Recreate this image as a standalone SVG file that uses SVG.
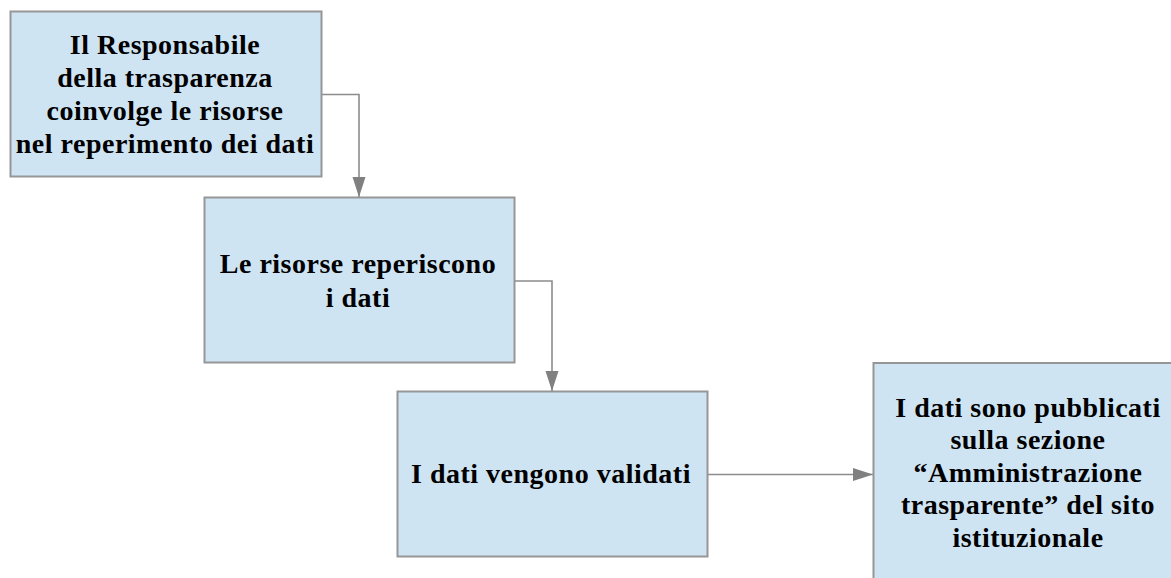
<svg xmlns="http://www.w3.org/2000/svg" width="1171" height="578" viewBox="0 0 1171 578">
<style>
.box{fill:#cfe4f3;stroke:#969696;stroke-width:2}
.lbl{font-family:"Liberation Serif","Times New Roman",serif;font-weight:bold;font-size:28px;letter-spacing:0.5px;fill:#000;text-anchor:middle}
.conn{fill:none;stroke:#8c8c8c;stroke-width:1.6}
</style>
<defs>
<marker id="ah" markerUnits="userSpaceOnUse" markerWidth="20" markerHeight="14" refX="20" refY="6.5" orient="auto">
<path d="M0,0 L20,6.5 L0,13 z" fill="#808080"/>
</marker>
</defs>
<rect width="1171" height="578" fill="#fff"/>
<g id="connectors">
<path class="conn" d="M321.5,94.5 H359 V197" marker-end="url(#ah)"/>
<path class="conn" d="M514.5,281 H552 V391" marker-end="url(#ah)"/>
<path class="conn" d="M707.5,474.5 H873" marker-end="url(#ah)"/>
</g>
<g id="node1">
<rect class="box" x="10.5" y="11.5" width="311" height="165"/>
<text class="lbl"><tspan x="165" y="54">Il Responsabile</tspan><tspan x="165" y="87">della trasparenza</tspan><tspan x="165" y="120">coinvolge le risorse</tspan><tspan x="165" y="153">nel reperimento dei dati</tspan></text>
</g>
<g id="node2">
<rect class="box" x="204.5" y="197.5" width="310" height="165"/>
<text class="lbl"><tspan x="358" y="273">Le risorse reperiscono</tspan><tspan x="358" y="307">i dati</tspan></text>
</g>
<g id="node3">
<rect class="box" x="397.5" y="391.5" width="310" height="165"/>
<text class="lbl"><tspan x="551" y="483">I dati vengono validati</tspan></text>
</g>
<g id="node4">
<rect class="box" x="873.5" y="363" width="310" height="222"/>
<text class="lbl"><tspan x="1028" y="416.5">I dati sono pubblicati</tspan><tspan x="1028" y="449">sulla sezione</tspan><tspan x="1028" y="481.5">“Amministrazione</tspan><tspan x="1028" y="514">trasparente” del sito</tspan><tspan x="1028" y="546.5">istituzionale</tspan></text>
</g>
</svg>
